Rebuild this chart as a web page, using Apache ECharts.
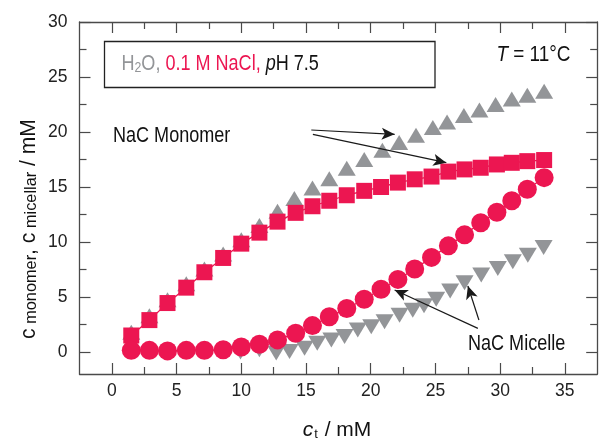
<!DOCTYPE html>
<html><head><meta charset="utf-8">
<script src="https://cdn.jsdelivr.net/npm/echarts@6/dist/echarts.min.js"></script>
<style>html,body{margin:0;padding:0;background:#fff}#c{width:600px;height:441px}</style>
</head><body><div id="c"></div>
<script>
// ---- data ----
const xNaCl = [1.5,2.9,4.3,5.75,7.15,8.6,10.0,11.4,12.8,14.2,15.5,16.8,18.15,19.5,20.8,22.1,23.4,24.7,26.0,27.25,28.5,29.75,30.9,32.1,33.4];
const monomerNaCl = [1.5,2.9,4.45,5.85,7.25,8.55,9.85,10.85,11.85,12.65,13.25,13.75,14.25,14.65,15.0,15.4,15.7,15.95,16.4,16.6,16.75,17.05,17.2,17.35,17.45];
const micelleNaCl = [0.15,0.15,0.1,0.15,0.15,0.2,0.45,0.7,1.1,1.7,2.4,3.2,3.95,4.8,5.7,6.6,7.55,8.6,9.65,10.65,11.75,12.7,13.75,14.8,15.85];
const xH2OMono = [1.5,2.9,4.3,5.75,7.15,8.6,10.0,11.4,12.8,14.1,15.5,16.8,18.15,19.5,20.9,22.2,23.5,24.8,25.9,27.2,28.4,29.65,30.9,32.1,33.4];
const monomerH2O = [1.8,3.3,4.75,6.2,7.55,8.9,10.2,11.5,12.8,13.95,14.9,15.75,16.7,17.5,18.35,19.05,19.7,20.4,20.9,21.5,22.0,22.5,23.0,23.35,23.7];
const xH2OMic = [9.94,11.4,12.7,13.73,14.89,15.87,16.96,17.98,19.0,20.04,21.07,22.23,23.25,24.12,25.06,26.14,27.25,28.54,29.82,30.98,32.14,33.36];
const micelleH2O = [0.0,0.2,-0.1,0.05,0.35,0.8,1.1,1.4,2.0,2.3,2.75,3.35,3.8,4.2,4.8,5.55,6.3,7.0,7.6,8.2,8.8,9.5];
const xMajor = [0,5,10,15,20,25,30,35];
const xMinor = [2.5,7.5,12.5,17.5,22.5,27.5,32.5];
const yMajor = [0,5,10,15,20,25,30];
const yMinor = [2.5,7.5,12.5,17.5,22.5,27.5];
// arrows [from, to] in data coordinates
const arrows = [
  [[15.41,20.18],[21.85,19.79]],
  [[15.53,19.79],[25.84,17.21]],
  [[28.28,2.15],[21.85,5.64]],
  [[28.36,2.91],[27.51,6.0]]
];

const RED = '#ec1651', GRAY = '#939598', AX = '#4a4a4a';
const FONT = '"Liberation Sans",Arial,sans-serif';
const NARROW = 0.82;
const zip = (xs, ys) => xs.map((x, i) => [x, ys[i]]);

function mkX(pos, vals, len, showLine, showLabel) {
  return {
    type: 'value', position: pos, min: -2.5, max: 37.5, interval: 2.5,
    axisLine: { show: showLine, onZero: false, lineStyle: { color: AX, width: 1.3 } },
    axisTick: { show: true, inside: true, length: len, customValues: vals, lineStyle: { color: AX, width: 1.2 } },
    axisLabel: showLabel ? { show: true, customValues: xMajor, margin: 8, fontSize: 17.5, fontFamily: FONT, color: '#222' } : { show: false },
    splitLine: { show: false }
  };
}
function mkY(pos, vals, len, showLine, showLabel) {
  return {
    type: 'value', position: pos, min: -2, max: 30, interval: 2.5,
    axisLine: { show: showLine, onZero: false, lineStyle: { color: AX, width: 1.3 } },
    axisTick: { show: true, inside: true, length: len, customValues: vals, lineStyle: { color: AX, width: 1.2 } },
    axisLabel: showLabel ? { show: true, customValues: yMajor, margin: 12, fontSize: 17.5, fontFamily: FONT, color: '#222' } : { show: false },
    splitLine: { show: false }
  };
}

const chart = echarts.init(document.getElementById('c'), null, { renderer: 'canvas' });
chart.setOption({
  animation: false,
  grid: { left: 79.5, right: 2.8, top: 22, bottom: 67, containLabel: false },
  xAxis: [
    mkX('bottom', xMajor, 11, true, true),
    mkX('bottom', xMinor, 7, false, false),
    mkX('top', xMajor, 11, true, false),
    mkX('top', xMinor, 7, false, false)
  ],
  yAxis: [
    mkY('left', yMajor, 11, true, true),
    mkY('left', yMinor, 7, false, false),
    mkY('right', yMajor, 11, true, false),
    mkY('right', yMinor, 7, false, false)
  ],
  series: [
    { type: 'scatter', name: 'H2O monomer', data: zip(xH2OMono, monomerH2O),
      symbol: 'triangle', symbolSize: [18, 15], itemStyle: { color: GRAY, opacity: 1 } },
    { type: 'scatter', name: 'H2O micelle', data: zip(xH2OMic, micelleH2O),
      symbol: 'triangle', symbolRotate: 180, symbolSize: [18, 15], itemStyle: { color: GRAY, opacity: 1 } },
    { type: 'line', name: 'NaCl monomer', data: zip(xNaCl, monomerNaCl),
      symbol: 'rect', symbolSize: 16, showAllSymbol: true,
      lineStyle: { color: RED, width: 1.3 }, itemStyle: { color: RED, opacity: 1 },
      markLine: {
        silent: true, symbol: ['none', 'arrow'], symbolSize: [9, 13], animation: false,
        label: { show: false },
        lineStyle: { color: '#1a1a1a', width: 1.2, type: 'solid' },
        data: arrows.map(a => [{ coord: a[0] }, { coord: a[1] }])
      } },
    { type: 'line', name: 'NaCl micelle', data: zip(xNaCl, micelleNaCl),
      symbol: 'circle', symbolSize: 19, showAllSymbol: true,
      lineStyle: { color: RED, width: 1.3 }, itemStyle: { color: RED, opacity: 1 } }
  ],
  graphic: [
    { type: 'rect', shape: { x: 104.5, y: 41.5, width: 330.5, height: 46 },
      style: { fill: '#fff', stroke: '#222', lineWidth: 1.3 }, z: 10 },
    { type: 'text', x: 121.5, y: 62, scaleX: NARROW, z: 11,
      style: {
        text: '{g|H}{gs|2}{g|O, }{r|0.1 M NaCl, }{i|p}{k|H 7.5}',
        verticalAlign: 'middle', align: 'left',
        rich: {
          g: { fontSize: 22, fontFamily: FONT, fill: GRAY, lineHeight: 26, verticalAlign: 'bottom' },
          gs: { fontSize: 15, fontFamily: FONT, fill: GRAY, lineHeight: 15, padding: [10, 0, 0, 0], verticalAlign: 'bottom' },
          r: { fontSize: 22, fontFamily: FONT, fill: RED, lineHeight: 26, verticalAlign: 'bottom' },
          i: { fontSize: 22, fontFamily: FONT, fontStyle: 'italic', fill: '#111', lineHeight: 26, verticalAlign: 'bottom' },
          k: { fontSize: 22, fontFamily: FONT, fill: '#111', lineHeight: 26, verticalAlign: 'bottom' }
        }
      } },
    { type: 'text', x: 496.5, y: 55, scaleX: 0.86, z: 11,
      style: {
        text: '{i|T}{k| = 11°C}', verticalAlign: 'middle', align: 'left',
        rich: {
          i: { fontSize: 22, fontFamily: FONT, fontStyle: 'italic', fill: '#111' },
          k: { fontSize: 22, fontFamily: FONT, fill: '#111' }
        }
      } },
    { type: 'text', x: 113, y: 136, scaleX: NARROW, z: 11,
      style: { text: 'NaC Monomer', fontSize: 22, fontFamily: FONT, fill: '#111', verticalAlign: 'middle', align: 'left' } },
    { type: 'text', x: 468, y: 344, scaleX: NARROW, z: 11,
      style: { text: 'NaC Micelle', fontSize: 22, fontFamily: FONT, fill: '#111', verticalAlign: 'middle', align: 'left' } },
    { type: 'text', x: 337, y: 428, z: 11,
      style: {
        text: '{i|c}{s|t}{n| / mM}', align: 'center', verticalAlign: 'middle',
        rich: {
          i: { fontSize: 21, fontFamily: FONT, fontStyle: 'italic', fill: '#111', lineHeight: 26, verticalAlign: 'bottom' },
          s: { fontSize: 13, fontFamily: FONT, fill: '#111', lineHeight: 13, padding: [10, 1, 0, 1], verticalAlign: 'bottom' },
          n: { fontSize: 21, fontFamily: FONT, fill: '#111', lineHeight: 26, verticalAlign: 'bottom' }
        }
      } },
    { type: 'text', x: 27, y: 229, rotation: Math.PI / 2, scaleX: 0.96, z: 11,
      style: {
        text: '{n|c}{s| monomer}{n|, c}{s| micellar}{n| / mM}', align: 'center', verticalAlign: 'middle',
        rich: {
          n: { fontSize: 22, fontFamily: FONT, fill: '#111', lineHeight: 26, verticalAlign: 'bottom' },
          s: { fontSize: 17, fontFamily: FONT, fill: '#111', lineHeight: 17, padding: [9, 0, 0, 0], verticalAlign: 'bottom' }
        }
      } }
  ]
});
</script></body></html>
